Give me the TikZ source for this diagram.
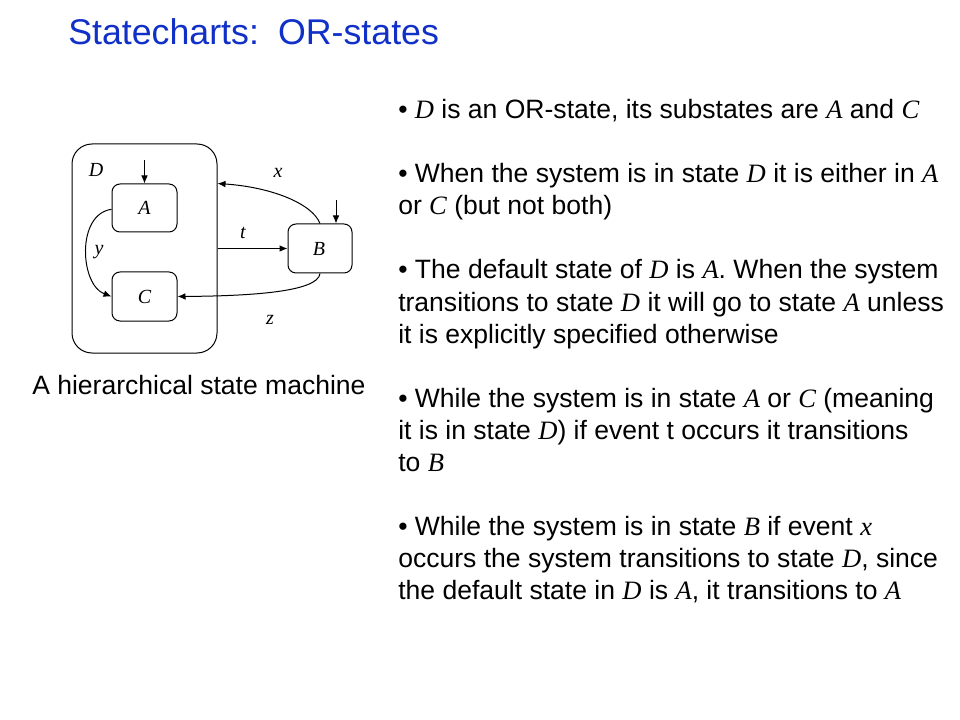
\documentclass[tikz,border=0pt]{standalone}
\usepackage{fontspec}
\setmainfont{Liberation Sans}
\newfontfamily\tms{Liberation Serif}
\usetikzlibrary{arrows.meta,calc}
\definecolor{titleblue}{RGB}{16,48,200}
\newcommand{\V}[1]{{\tms\itshape #1}}
\begin{document}
\begin{tikzpicture}[x=0.75pt,y=-0.75pt,
  statebox/.style={draw,line width=0.75pt,rounded corners=6pt,inner sep=0pt},
  lbl/.style={font=\tms\itshape\fontsize{15}{17}\selectfont,inner sep=0pt},
  body/.style={anchor=base west,inner sep=0pt,font=\fontsize{19.9}{23}\selectfont},
  tr/.style={line width=0.75pt,-{Latex[length=6pt,width=5pt]}}]
\useasboundingbox (0,0) rectangle (960,720);
\fill[white] (0,0) rectangle (960,720);
% title
\node[anchor=base west,inner sep=0pt,text=titleblue,font=\fontsize{26.8}{30}\selectfont] (title) at (68,45) {Statecharts:\, OR-states};
% diagram
\node[statebox,rounded corners=15pt,minimum width=145*0.75pt,minimum height=209*0.75pt] (D) at (144.5,248.5) {};
\node[lbl] (Dl) at (96,170) {D};
\node[statebox,minimum width=65*0.75pt,minimum height=48*0.75pt] (A) at (144.5,208) {};
\node[lbl] (Al) at (144.5,208) {A};
\node[statebox,minimum width=65*0.75pt,minimum height=49*0.75pt] (C) at (144.5,296.5) {};
\node[lbl] (Cl) at (144.5,297) {C};
\node[statebox,minimum width=64*0.75pt,minimum height=49*0.75pt] (B) at (320,248.5) {};
\node[lbl] (Bl) at (319,249) {B};
\coordinate (iA) at (144.5,160);
\coordinate (iB) at (336,200);
\draw[tr] (iA) -- (A.north);
\draw[tr] (iB) -- (iB|-B.north);
\draw[tr] (D.east) -- (B.west);
\draw[tr] (B.north) .. controls (312,203) and (270,187) .. ([yshift=48.75pt]D.east);
\draw[tr] (B.south) .. controls (318,292) and (250,296) .. (C.east);
\draw[tr] ([yshift=-1pt]A.west) .. controls (76,214) and (80,285) .. (C.west);
\node[lbl] (xl) at (278,173) {x};
\node[lbl] (tl) at (243,233) {t};
\node[lbl] (zl) at (270,320) {z};
\node[lbl] (yl) at (99,252) {y};
% caption
\node[body] (cap) at (32,394) {A hierarchical state machine};
% bullets
\node[body] (l1) at (398,119) {• \V{D} is an OR-state, its substates are \V{A} and \V{C}};
\node[body] (l2) at (398,183) {• When the system is in state \V{D} it is either in \V{A}};
\node[body] (l3) at (398,215) {or \V{C} (but not both)};
\node[body] (l4) at (398,279) {• The default state of \V{D} is \V{A}. When the system};
\node[body] (l5) at (398,311) {transitions to state \V{D} it will go to state \V{A} unless};
\node[body] (l6) at (398,343) {it is explicitly specified otherwise};
\node[body] (l7) at (398,407) {• While the system is in state \V{A} or \V{C} (meaning};
\node[body] (l8) at (398,439) {it is in state \V{D}) if event t occurs it transitions};
\node[body] (l9) at (398,471) {to \V{B}};
\node[body] (l10) at (398,535) {• While the system is in state \V{B} if event \V{x}};
\node[body] (l11) at (398,567) {occurs the system transitions to state \V{D}, since};
\node[body] (l12) at (398,599) {the default state in \V{D} is \V{A}, it transitions to \V{A}};
\end{tikzpicture}
\end{document}
